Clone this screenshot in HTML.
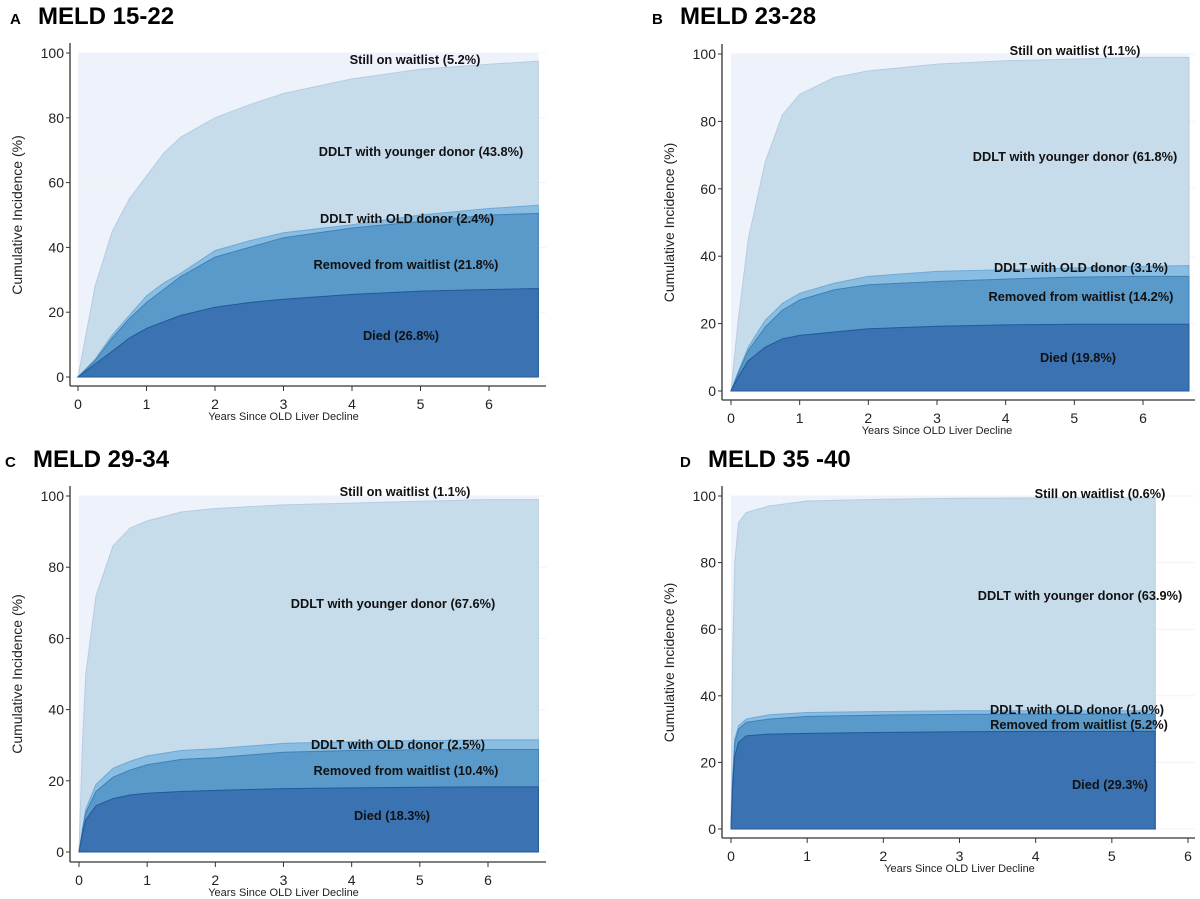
<!DOCTYPE html>
<html><head><meta charset="utf-8">
<style>
html,body{margin:0;padding:0;background:#fff;}
svg{display:block;font-family:"Liberation Sans",Arial,sans-serif;}
</style></head>
<body>
<svg id="chart" width="1200" height="899" viewBox="0 0 1200 899" xmlns="http://www.w3.org/2000/svg"></svg>
<script>
// Panel A: MELD 15-22
const timesA   = [0,0.25,0.5,0.75,1,1.25,1.5,2,2.5,3,4,5,6,6.72];
const diedA    = [0,4,8,12,15,17,19,21.5,23,24,25.5,26.5,27,27.3];
const removedA = [0,5,12,18,23,27,31,37,40,43,46,48,50,50.5];
const oldA     = [0,5.5,13,19,25,29,32,39,42,44.5,47,50,52,53];
const youngA   = [0,28,45,55,62,69,74,80,84,87.5,92,95,96.5,97.5];
// Panel B: MELD 23-28
const timesB   = [0,0.1,0.25,0.5,0.75,1,1.5,2,3,4,5,6,6.67];
const diedB    = [0,4,9,13,15.5,16.5,17.5,18.5,19.2,19.6,19.8,19.8,19.8];
const removedB = [0,5,12,19,24,27,30,31.5,32.5,33.2,33.8,34,34];
const oldB     = [0,5.5,13,21,26,29,32,34,35.5,36,36.5,37,37.2];
const youngB   = [0,20,45,68,82,88,93,95,97,98,98.5,99,99];
// Panel C: MELD 29-34
const timesC   = [0,0.05,0.1,0.25,0.5,0.75,1,1.5,2,3,4,5,6,6.74];
const diedC    = [0,5,9,13,15,16,16.5,17,17.3,17.8,18,18.2,18.3,18.3];
const removedC = [0,6,11,17,21,23,24.5,26,26.5,28,28.5,28.7,28.8,28.8];
const oldC     = [0,6.5,12,19,23.5,25.5,27,28.5,29,30.5,31,31.3,31.5,31.5];
const youngC   = [0,30,50,72,86,91,93,95.5,96.5,97.5,98,98.5,99,99];
// Panel D: MELD 35-40
const timesD   = [0,0.02,0.05,0.1,0.2,0.5,1,2,3,4,5,5.57];
const diedD    = [0,12,22,26,28,28.5,28.7,29,29.2,29.3,29.3,29.3];
const removedD = [0,14,26,30,32,33,33.8,34.2,34.4,34.5,34.5,34.5];
const oldD     = [0,15,27,31,33,34.3,35,35.3,35.5,35.5,35.5,35.5];
const youngD   = [0,50,80,92,95,97,98.5,99,99.3,99.4,99.4,99.4];

const xTicks = [0,1,2,3,4,5,6];
const yTicks = [0,20,40,60,80,100];
const labelsA = ["Still on waitlist (5.2%)","DDLT with younger donor (43.8%)","DDLT with OLD donor (2.4%)","Removed from waitlist (21.8%)","Died (26.8%)"];
const labelsB = ["Still on waitlist (1.1%)","DDLT with younger donor (61.8%)","DDLT with OLD donor (3.1%)","Removed from waitlist (14.2%)","Died (19.8%)"];
const labelsC = ["Still on waitlist (1.1%)","DDLT with younger donor (67.6%)","DDLT with OLD donor (2.5%)","Removed from waitlist (10.4%)","Died (18.3%)"];
const labelsD = ["Still on waitlist (0.6%)","DDLT with younger donor (63.9%)","DDLT with OLD donor (1.0%)","Removed from waitlist (5.2%)","Died (29.3%)"];

const NS="http://www.w3.org/2000/svg";
const svg=document.getElementById('chart');
function mk(tag,attrs,parent){const e=document.createElementNS(NS,tag);for(const k in attrs)e.setAttribute(k,attrs[k]);(parent||svg).appendChild(e);return e;}

const panels=[
 {id:'a',letter:'A',title:'MELD 15-22',tx:10,ty:24,x0:78,x6:489,y100:53,y0:377,ax:70,axisY:386,axisR:546,times:timesA,s:[diedA,removedA,oldA,youngA],labels:labelsA,
  lp:[[415,64],[421,156],[407,223],[406,269],[401,340]]},
 {id:'b',letter:'B',title:'MELD 23-28',tx:652,ty:24,x0:731,x6:1143,y100:54,y0:391,ax:722,axisY:400,axisR:1195,times:timesB,s:[diedB,removedB,oldB,youngB],labels:labelsB,
  lp:[[1075,55],[1075,161],[1081,272],[1081,301],[1078,362]]},
 {id:'c',letter:'C',title:'MELD 29-34',tx:5,ty:467,x0:79,x6:488,y100:496,y0:852,ax:70,axisY:862,axisR:546,times:timesC,s:[diedC,removedC,oldC,youngC],labels:labelsC,
  lp:[[405,496],[393,608],[398,749],[406,775],[392,820]]},
 {id:'d',letter:'D',title:'MELD 35 -40',tx:680,ty:467,x0:731,x6:1188,y100:496,y0:829,ax:722,axisY:838,axisR:1195,times:timesD,s:[diedD,removedD,oldD,youngD],labels:labelsD,
  lp:[[1100,498],[1080,600],[1077,714],[1079,729],[1110,789]]}
];
const fills=['#3b72b1','#5a9acb','#8abde2','#c7dceb'];
const strokes=['#215a98','#3f80b8','#6ea9d6','#b3cde2'];
const sNames=['died','removed','old-donor','younger-donor'];

panels.forEach(p=>{
  const g=mk('g',{});
  
  
  const xs=t=>p.x0+(p.x6-p.x0)*t/6;
  const ys=v=>p.y0-(p.y0-p.y100)*v/100;
  const tEnd=p.times[p.times.length-1];
  const tl=mk('text',{x:p.tx,y:p.ty,'font-size':15,'font-weight':'bold',fill:'#000'},g);
  tl.textContent=p.letter;
  
  
  const tt=mk('text',{x:p.tx+28,y:p.ty,'font-size':24,'font-weight':'bold',fill:'#000'},g);
  tt.textContent=p.title;
  
  
  const bg=mk('rect',{x:xs(0),y:ys(100),width:xs(tEnd)-xs(0),height:ys(0)-ys(100),fill:'#eef2fb'},g);
  
  
  yTicks.forEach(v=>{mk('line',{x1:xs(0),x2:p.axisR,y1:ys(v),y2:ys(v),stroke:'#f1f3f8','stroke-width':1},g);});
  for(let k=3;k>=0;k--){
    const arr=p.s[k];
    let d='M'+xs(0)+','+ys(0);
    p.times.forEach((t,i)=>{d+=' L'+xs(t).toFixed(1)+','+ys(arr[i]).toFixed(1);});
    d+=' L'+xs(tEnd).toFixed(1)+','+ys(0)+' Z';
    const a=mk('path',{d:d,fill:fills[k],stroke:strokes[k],'stroke-width':1},g);
    
    
  }
  const ya=mk('line',{x1:p.ax,x2:p.ax,y1:p.y100-10,y2:p.axisY,stroke:'#333','stroke-width':1.3},g);
  
  
  const xa=mk('line',{x1:p.ax,x2:p.axisR,y1:p.axisY,y2:p.axisY,stroke:'#333','stroke-width':1.3},g);
  
  
  yTicks.forEach(v=>{
    mk('line',{x1:p.ax-4,x2:p.ax,y1:ys(v),y2:ys(v),stroke:'#333'},g);
    const t=mk('text',{x:p.ax-6,y:ys(v)+5,'font-size':14,'text-anchor':'end',fill:'#222'},g);
    t.textContent=v;
    
    
  });
  xTicks.forEach(v=>{
    mk('line',{x1:xs(v),x2:xs(v),y1:p.axisY,y2:p.axisY+5,stroke:'#333'},g);
    const t=mk('text',{x:xs(v),y:p.axisY+23,'font-size':14,'text-anchor':'middle',fill:'#222'},g);
    t.textContent=v;
    
    
  });
  const xt=mk('text',{x:xs(3),y:p.axisY+34,'font-size':11,'text-anchor':'middle',fill:'#222'},g);
  xt.textContent='Years Since OLD Liver Decline';
  
  
  const cy=(p.y0+p.y100)/2;
  const yt=mk('text',{x:0,y:0,'font-size':14,'text-anchor':'middle',fill:'#222',transform:'translate('+(p.ax-48)+','+cy+') rotate(-90)'},g);
  yt.textContent='Cumulative Incidence (%)';
  
  
  p.labels.forEach((s,i)=>{
    const t=mk('text',{x:p.lp[i][0],y:p.lp[i][1],'font-size':12.8,'font-weight':'bold','text-anchor':'middle',fill:'#111'},g);
    t.textContent=s;
    
    
  });
});
</script>
</body></html>
